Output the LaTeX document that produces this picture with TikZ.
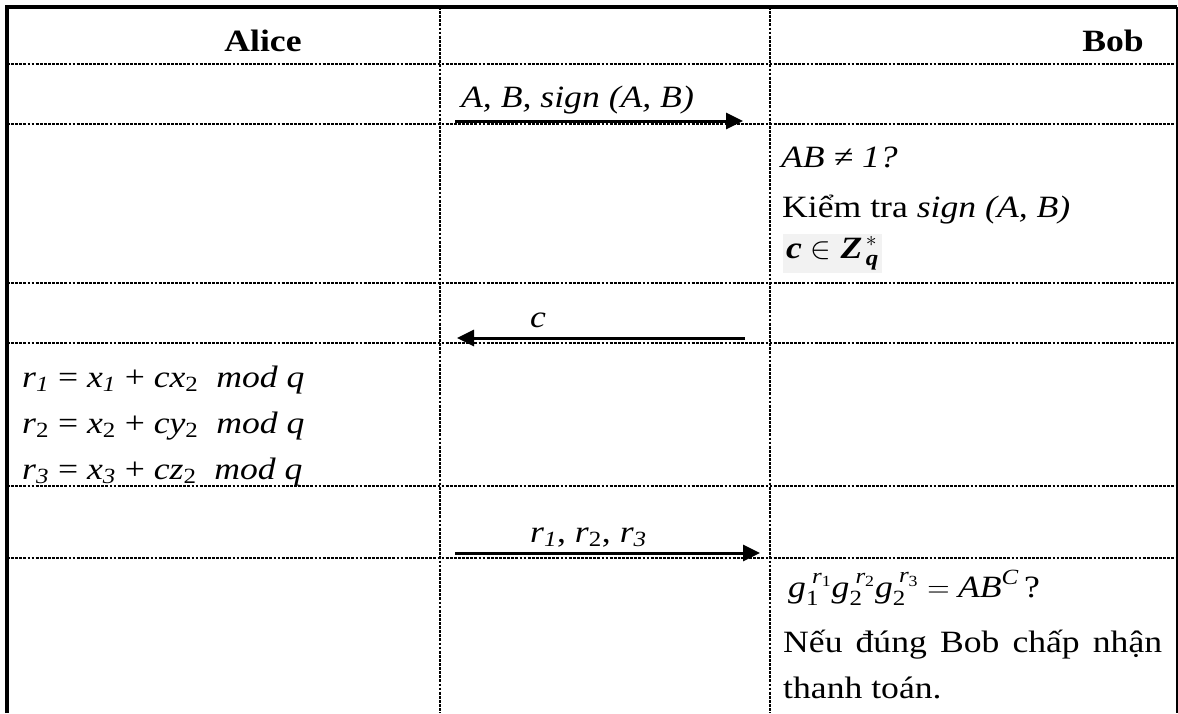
\RequirePackage{fix-cm}
\documentclass[tikz,border=0pt]{standalone}
\usepackage{amsmath,amssymb}
\usepackage{fontspec}
\setmainfont{Liberation Serif}[FakeStretch=1.15]
\usetikzlibrary{arrows.meta,positioning}

\begin{document}
\begin{tikzpicture}[
  x=1pt, y=-1pt,
  font=\fontsize{31}{37}\selectfont,
  grid/.style={draw=black, line width=2.8pt, dash pattern=on 2.8pt off 1.3pt},
  frame/.style={draw=black, line width=4pt},
  msg/.style={-{Triangle[length=17pt,width=16pt]}, line width=3pt},
  cell/.style={anchor=base west, inner sep=0pt},
  head/.style={anchor=base, inner sep=0pt, font=\fontsize{31}{37}\selectfont\bfseries}
]
\useasboundingbox (0,0) rectangle (1178,713);

\def\colA{440}
\def\colB{770}

% table rules
\foreach \x in {\colA,\colB}
  \draw[grid] (\x,7) -- (\x,713);
\foreach \y in {64,124,283,343,486,558}
  \draw[grid] (7,\y) -- (1177,\y);

\draw[frame] (7,713) -- (7,7) -- (1177,7);
\draw[line width=1.5pt] (1177,7) -- (1177,713);

% header
\node[head] (alice) at (263,51) {Alice};
\node[head] (bob) at (1113,51) {Bob};

% Alice -> Bob
\node[cell] (sig) at (461,107) {\textit{A, B, sign (A, B)}};
\coordinate (sigA) at (455,121);
\coordinate (sigB) at (743,121);
\draw[msg] (sigA) -- (sigB);

% Bob checks
\node[cell] (chk) at (781,167) {\textit{AB ≠ 1?}};
\node[cell] (ver) at (782,217) {Kiểm tra \textit{sign (A, B)}};
\node[cell, fill=black!5, inner sep=3pt] (chal) at (783,258) {\textbf{\textit{c}} $\in$ \textbf{\textit{Z}}$^{\,*}_{\,\textbf{\textit{q}}}$};

% Bob -> Alice
\node[cell] (clab) at (530,327) {\textit{c}};
\coordinate (cB) at (745,338);
\coordinate (cA) at (457,338);
\draw[msg] (cB) -- (cA);

% Alice responses
\node[cell] (resp1) at (22,387) {\textit{r}\textsubscript{\textit{1}} = \textit{x}\textsubscript{\textit{1}} + \textit{cx}\textsubscript{2}\ \ \textit{mod q}};
\node[cell] (resp2) at (22,433) {\textit{r}\textsubscript{2} = \textit{x}\textsubscript{2} + \textit{cy}\textsubscript{2}\ \ \textit{mod q}};
\node[cell] (resp3) at (22,479) {\textit{r}\textsubscript{\textit{3}} = \textit{x}\textsubscript{\textit{3}} + \textit{cz}\textsubscript{2}\ \ \textit{mod q}};

% Alice -> Bob
\node[cell] (rlab) at (530,542) {\textit{r}\textsubscript{\textit{1}}, \textit{r}\textsubscript{2}, \textit{r}\textsubscript{\textit{3}}};
\coordinate (rA) at (455,553);
\coordinate (rB) at (760,553);
\draw[msg] (rA) -- (rB);

% Bob verifies
\node[cell] (eq) at (788,597) {$\textit{g}_{\text{1}}^{\;\textit{r}_{\text{1}}}\textit{g}_{\text{2}}^{\;\textit{r}_{\text{2}}}\textit{g}_{\text{2}}^{\;\textit{r}_{\text{3}}}=\textit{AB}^{\textit{C}}$\,?};
\node[cell] (ok1) at (783,652) {\makebox[379pt][s]{Nếu đúng Bob chấp nhận}};
\node[cell] (ok2) at (783,698) {thanh toán.};

\end{tikzpicture}
\end{document}
